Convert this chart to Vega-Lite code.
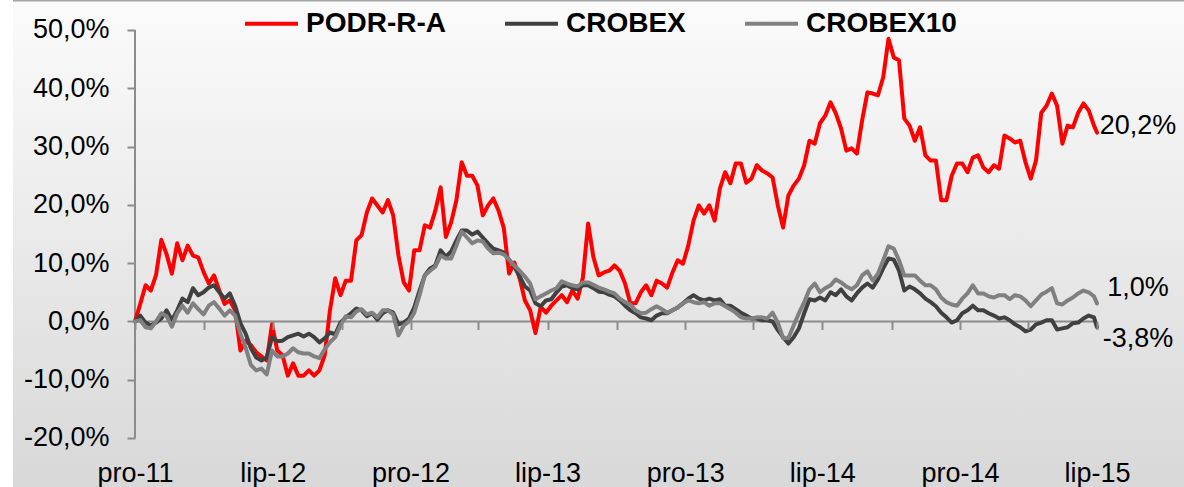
{
  "$schema": "https://vega.github.io/schema/vega-lite/v6.json",
  "width": 1171,
  "height": 487,
  "autosize": {"type": "none"},
  "padding": {"left": 13, "top": 0, "right": 0, "bottom": 0},
  "background": "#ffffff",
  "config": {
    "font": "Liberation Sans",
    "view": {"stroke": null}
  },
  "datasets": {
    "main": [
      {"d":"2011-12-01","r":0,"c":0,"g":0},
      {"d":"2011-12-08","r":3.0,"c":1.0,"g":0.2},
      {"d":"2011-12-15","r":6.2,"c":-0.2,"g":-1.0},
      {"d":"2011-12-22","r":5.3,"c":-0.7,"g":-1.2},
      {"d":"2011-12-29","r":8.0,"c":-0.2,"g":0},
      {"d":"2012-01-05","r":14.0,"c":0.5,"g":1.4},
      {"d":"2012-01-12","r":11.5,"c":1.9,"g":0.9},
      {"d":"2012-01-19","r":8.2,"c":0.2,"g":-0.9},
      {"d":"2012-01-26","r":13.4,"c":1.9,"g":1.4},
      {"d":"2012-02-02","r":10.5,"c":3.9,"g":2.7},
      {"d":"2012-02-09","r":13.0,"c":3.3,"g":1.5},
      {"d":"2012-02-16","r":11.3,"c":5.7,"g":3.1},
      {"d":"2012-02-23","r":11.0,"c":4.5,"g":2.1},
      {"d":"2012-03-01","r":8.5,"c":5.0,"g":1.2},
      {"d":"2012-03-08","r":6.5,"c":5.8,"g":2.7},
      {"d":"2012-03-15","r":7.9,"c":6.2,"g":3.3},
      {"d":"2012-03-22","r":5.3,"c":5.0,"g":2.2},
      {"d":"2012-03-29","r":3.0,"c":3.9,"g":1.0},
      {"d":"2012-04-05","r":3.6,"c":4.8,"g":1.9},
      {"d":"2012-04-12","r":1.9,"c":2.7,"g":1.0},
      {"d":"2012-04-19","r":-5.0,"c":-0.3,"g":-2.1},
      {"d":"2012-04-26","r":-3.3,"c":-2.1,"g":-4.5},
      {"d":"2012-05-03","r":-4.1,"c":-4.6,"g":-7.5},
      {"d":"2012-05-10","r":-5.3,"c":-6.2,"g":-8.4},
      {"d":"2012-05-17","r":-6.0,"c":-6.7,"g":-8.1},
      {"d":"2012-05-24","r":-6.7,"c":-6.2,"g":-9.1},
      {"d":"2012-05-31","r":-0.5,"c":-2.7,"g":-5.0},
      {"d":"2012-06-07","r":-5.0,"c":-3.4,"g":-6.0},
      {"d":"2012-06-14","r":-5.8,"c":-3.3,"g":-6.0},
      {"d":"2012-06-21","r":-9.3,"c":-2.7,"g":-5.5},
      {"d":"2012-06-28","r":-7.2,"c":-2.4,"g":-4.6},
      {"d":"2012-07-05","r":-9.3,"c":-2.1,"g":-5.3},
      {"d":"2012-07-12","r":-9.3,"c":-2.6,"g":-5.5},
      {"d":"2012-07-19","r":-8.4,"c":-2.1,"g":-5.5},
      {"d":"2012-07-26","r":-9.3,"c":-2.7,"g":-6.0},
      {"d":"2012-08-02","r":-8.4,"c":-3.6,"g":-6.3},
      {"d":"2012-08-09","r":-5.8,"c":-2.9,"g":-4.8},
      {"d":"2012-08-16","r":1.9,"c":-1.9,"g":-3.6},
      {"d":"2012-08-23","r":7.4,"c":-2.2,"g":-2.7},
      {"d":"2012-08-30","r":4.5,"c":-0.2,"g":-0.7},
      {"d":"2012-09-06","r":7.0,"c":0.7,"g":0.9},
      {"d":"2012-09-13","r":7.0,"c":1.4,"g":0.7},
      {"d":"2012-09-20","r":13.9,"c":2.2,"g":1.7},
      {"d":"2012-09-27","r":14.8,"c":1.9,"g":2.1},
      {"d":"2012-10-04","r":18.7,"c":0.9,"g":1.2},
      {"d":"2012-10-11","r":21.1,"c":1.4,"g":1.5},
      {"d":"2012-10-18","r":19.9,"c":0.3,"g":0.7},
      {"d":"2012-10-25","r":18.7,"c":1.4,"g":1.9},
      {"d":"2012-11-01","r":20.8,"c":1.9,"g":1.9},
      {"d":"2012-11-08","r":18.2,"c":1.5,"g":1.2},
      {"d":"2012-11-15","r":11.3,"c":-0.5,"g":-2.4},
      {"d":"2012-11-22","r":6.7,"c":-0.2,"g":-0.7},
      {"d":"2012-11-29","r":5.3,"c":0.5,"g":0},
      {"d":"2012-12-06","r":12.2,"c":2.4,"g":1.5},
      {"d":"2012-12-13","r":12.2,"c":5.3,"g":4.5},
      {"d":"2012-12-20","r":16.5,"c":7.9,"g":7.9},
      {"d":"2012-12-27","r":16.1,"c":9.1,"g":8.7},
      {"d":"2013-01-03","r":19.0,"c":9.6,"g":9.4},
      {"d":"2013-01-10","r":23.0,"c":12.2,"g":11.3},
      {"d":"2013-01-17","r":14.5,"c":11.1,"g":10.8},
      {"d":"2013-01-24","r":17.0,"c":12.0,"g":10.8},
      {"d":"2013-01-31","r":20.8,"c":13.9,"g":13.0},
      {"d":"2013-02-07","r":27.3,"c":15.6,"g":15.4},
      {"d":"2013-02-14","r":25.0,"c":15.6,"g":14.4},
      {"d":"2013-02-21","r":25.0,"c":14.9,"g":13.4},
      {"d":"2013-02-28","r":23.3,"c":15.4,"g":13.9},
      {"d":"2013-03-07","r":18.2,"c":14.4,"g":13.7},
      {"d":"2013-03-14","r":19.9,"c":13.4,"g":12.5},
      {"d":"2013-03-21","r":21.1,"c":12.5,"g":11.7},
      {"d":"2013-03-28","r":19.0,"c":12.2,"g":11.8},
      {"d":"2013-04-04","r":16.0,"c":11.8,"g":11.5},
      {"d":"2013-04-11","r":8.2,"c":10.6,"g":10.6},
      {"d":"2013-04-18","r":10.1,"c":9.4,"g":9.6},
      {"d":"2013-04-25","r":7.4,"c":7.7,"g":8.7},
      {"d":"2013-05-02","r":3.6,"c":6.0,"g":7.7},
      {"d":"2013-05-09","r":1.9,"c":5.3,"g":6.5},
      {"d":"2013-05-16","r":-2.0,"c":3.1,"g":3.8},
      {"d":"2013-05-23","r":2.5,"c":2.6,"g":4.3},
      {"d":"2013-05-30","r":1.5,"c":3.6,"g":4.8},
      {"d":"2013-06-06","r":2.7,"c":3.8,"g":5.3},
      {"d":"2013-06-13","r":3.6,"c":5.0,"g":5.7},
      {"d":"2013-06-20","r":4.5,"c":6.0,"g":6.9},
      {"d":"2013-06-27","r":3.3,"c":6.2,"g":6.5},
      {"d":"2013-07-04","r":5.3,"c":5.7,"g":6.2},
      {"d":"2013-07-11","r":3.9,"c":5.5,"g":6.0},
      {"d":"2013-07-18","r":7.5,"c":6.2,"g":6.7},
      {"d":"2013-07-25","r":16.8,"c":6.2,"g":6.7},
      {"d":"2013-08-01","r":11.0,"c":5.7,"g":6.3},
      {"d":"2013-08-08","r":7.9,"c":5.1,"g":5.8},
      {"d":"2013-08-15","r":8.4,"c":5.0,"g":5.5},
      {"d":"2013-08-22","r":8.7,"c":4.6,"g":5.1},
      {"d":"2013-08-29","r":9.6,"c":4.3,"g":4.8},
      {"d":"2013-09-05","r":8.7,"c":3.6,"g":3.9},
      {"d":"2013-09-12","r":6.5,"c":2.7,"g":3.3},
      {"d":"2013-09-19","r":3.1,"c":1.9,"g":2.9},
      {"d":"2013-09-26","r":3.1,"c":1.4,"g":1.9},
      {"d":"2013-10-03","r":5.0,"c":0.7,"g":1.4},
      {"d":"2013-10-10","r":6.2,"c":0.5,"g":1.5},
      {"d":"2013-10-17","r":4.5,"c":0.2,"g":2.1},
      {"d":"2013-10-24","r":7.0,"c":1.0,"g":2.6},
      {"d":"2013-10-31","r":6.5,"c":1.4,"g":2.1},
      {"d":"2013-11-07","r":5.8,"c":1.4,"g":1.5},
      {"d":"2013-11-14","r":8.4,"c":1.9,"g":1.9},
      {"d":"2013-11-21","r":10.5,"c":2.4,"g":2.4},
      {"d":"2013-11-28","r":9.9,"c":3.1,"g":3.1},
      {"d":"2013-12-05","r":13.0,"c":3.9,"g":3.6},
      {"d":"2013-12-12","r":17.3,"c":4.5,"g":3.3},
      {"d":"2013-12-19","r":19.9,"c":3.9,"g":3.1},
      {"d":"2013-12-26","r":18.5,"c":3.6,"g":3.3},
      {"d":"2014-01-02","r":19.9,"c":3.9,"g":2.7},
      {"d":"2014-01-09","r":17.3,"c":3.6,"g":3.1},
      {"d":"2014-01-16","r":22.8,"c":3.8,"g":3.1},
      {"d":"2014-01-23","r":25.6,"c":2.7,"g":2.6},
      {"d":"2014-01-30","r":23.7,"c":2.7,"g":2.1},
      {"d":"2014-02-06","r":27.1,"c":2.1,"g":1.5},
      {"d":"2014-02-13","r":27.1,"c":1.5,"g":0.7},
      {"d":"2014-02-20","r":23.8,"c":1.0,"g":0.5},
      {"d":"2014-02-27","r":24.5,"c":0.5,"g":0.5},
      {"d":"2014-03-06","r":26.8,"c":0.5,"g":0.7},
      {"d":"2014-03-13","r":25.9,"c":0.2,"g":0.7},
      {"d":"2014-03-20","r":25.4,"c":0.2,"g":0.5},
      {"d":"2014-03-27","r":24.7,"c":0,"g":1.5},
      {"d":"2014-04-03","r":19.9,"c":-1.5,"g":-0.2},
      {"d":"2014-04-10","r":16.1,"c":-2.7,"g":-2.9},
      {"d":"2014-04-17","r":21.6,"c":-3.8,"g":-2.9},
      {"d":"2014-04-24","r":23.3,"c":-2.7,"g":-0.7},
      {"d":"2014-05-01","r":24.5,"c":-1.2,"g":1.4},
      {"d":"2014-05-08","r":26.8,"c":1.4,"g":3.3},
      {"d":"2014-05-15","r":31.0,"c":3.8,"g":5.5},
      {"d":"2014-05-22","r":30.5,"c":3.6,"g":6.5},
      {"d":"2014-05-29","r":34.0,"c":4.1,"g":5.0},
      {"d":"2014-06-05","r":35.3,"c":3.6,"g":5.7},
      {"d":"2014-06-12","r":37.6,"c":5.0,"g":6.2},
      {"d":"2014-06-19","r":35.7,"c":4.5,"g":7.2},
      {"d":"2014-06-26","r":33.1,"c":5.5,"g":6.7},
      {"d":"2014-07-03","r":29.3,"c":4.3,"g":6.0},
      {"d":"2014-07-10","r":29.7,"c":3.6,"g":5.5},
      {"d":"2014-07-17","r":28.8,"c":4.8,"g":6.2},
      {"d":"2014-07-24","r":34.5,"c":5.8,"g":7.9},
      {"d":"2014-07-31","r":39.3,"c":6.5,"g":8.6},
      {"d":"2014-08-07","r":39.1,"c":5.8,"g":7.0},
      {"d":"2014-08-14","r":38.8,"c":7.2,"g":8.2},
      {"d":"2014-08-21","r":41.9,"c":9.1,"g":10.5},
      {"d":"2014-08-28","r":48.5,"c":10.8,"g":12.9},
      {"d":"2014-09-04","r":45.3,"c":10.6,"g":12.5},
      {"d":"2014-09-11","r":44.8,"c":8.7,"g":10.5},
      {"d":"2014-09-18","r":34.8,"c":5.3,"g":7.9},
      {"d":"2014-09-25","r":33.6,"c":6.0,"g":7.9},
      {"d":"2014-10-02","r":31.0,"c":5.5,"g":7.9},
      {"d":"2014-10-09","r":33.3,"c":4.8,"g":7.0},
      {"d":"2014-10-16","r":28.5,"c":3.9,"g":6.2},
      {"d":"2014-10-23","r":27.6,"c":3.3,"g":6.2},
      {"d":"2014-10-30","r":27.6,"c":2.6,"g":5.5},
      {"d":"2014-11-06","r":20.8,"c":1.5,"g":4.1},
      {"d":"2014-11-13","r":20.8,"c":0.7,"g":3.3},
      {"d":"2014-11-20","r":25.0,"c":-0.2,"g":2.9},
      {"d":"2014-11-27","r":27.1,"c":0.2,"g":2.7},
      {"d":"2014-12-04","r":27.1,"c":1.4,"g":3.9},
      {"d":"2014-12-11","r":25.6,"c":1.9,"g":4.8},
      {"d":"2014-12-18","r":28.1,"c":2.7,"g":6.2},
      {"d":"2014-12-25","r":28.5,"c":1.9,"g":4.8},
      {"d":"2015-01-01","r":26.4,"c":1.9,"g":4.8},
      {"d":"2015-01-08","r":25.6,"c":1.4,"g":4.3},
      {"d":"2015-01-15","r":26.8,"c":1.0,"g":4.1},
      {"d":"2015-01-22","r":26.2,"c":0.5,"g":4.5},
      {"d":"2015-01-29","r":31.9,"c":0.7,"g":4.5},
      {"d":"2015-02-05","r":31.4,"c":0.2,"g":3.8},
      {"d":"2015-02-12","r":30.7,"c":-0.5,"g":4.5},
      {"d":"2015-02-19","r":31.0,"c":-1.0,"g":4.3},
      {"d":"2015-02-26","r":27.3,"c":-1.7,"g":3.6},
      {"d":"2015-03-05","r":24.5,"c":-1.4,"g":2.6},
      {"d":"2015-03-12","r":27.6,"c":-0.5,"g":3.6},
      {"d":"2015-03-19","r":35.8,"c":-0.2,"g":4.6},
      {"d":"2015-03-26","r":37.0,"c":0.2,"g":5.1},
      {"d":"2015-04-02","r":39.1,"c":0.2,"g":5.7},
      {"d":"2015-04-09","r":37.0,"c":-1.4,"g":3.1},
      {"d":"2015-04-16","r":30.5,"c":-1.2,"g":2.9},
      {"d":"2015-04-23","r":33.6,"c":-1.0,"g":3.6},
      {"d":"2015-04-30","r":33.3,"c":-0.3,"g":4.1},
      {"d":"2015-05-07","r":35.8,"c":-0.2,"g":4.8},
      {"d":"2015-05-14","r":37.4,"c":0.5,"g":5.3},
      {"d":"2015-05-21","r":36.2,"c":1.0,"g":5.0},
      {"d":"2015-05-28","r":33.6,"c":0.7,"g":4.3},
      {"d":"2015-06-01","r":32.4,"c":-1.0,"g":3.1}
    ],
    "labels": [
      {"d":"2015-06-01","v":33.6,"t":"20,2%"},
      {"d":"2015-06-01","v":5.8,"t":"1,0%"},
      {"d":"2015-06-01","v":-3.0,"t":"-3,8%"}
    ]
  },
  "encoding": {
    "x": {
      "field": "d", "type": "temporal",
      "scale": {"type": "utc", "domain": [
        {"year": 2011, "month": 6, "date": 21, "hours": 22, "minutes": 5, "utc": true},
        {"year": 2015, "month": 9, "date": 24, "hours": 13, "minutes": 55, "utc": true}]},
      "axis": {
        "orient": "bottom", "offset": -165.6, "title": null, "grid": false, "domain": false, "zindex": 1,
        "values": [
          {"year": 2011, "month": 12, "date": 1, "utc": true},
          {"year": 2012, "month": 3, "date": 1, "utc": true},
          {"year": 2012, "month": 6, "date": 1, "utc": true},
          {"year": 2012, "month": 9, "date": 1, "utc": true},
          {"year": 2012, "month": 12, "date": 1, "utc": true},
          {"year": 2013, "month": 3, "date": 1, "utc": true},
          {"year": 2013, "month": 6, "date": 1, "utc": true},
          {"year": 2013, "month": 9, "date": 1, "utc": true},
          {"year": 2013, "month": 12, "date": 1, "utc": true},
          {"year": 2014, "month": 3, "date": 1, "utc": true},
          {"year": 2014, "month": 6, "date": 1, "utc": true},
          {"year": 2014, "month": 9, "date": 1, "utc": true},
          {"year": 2014, "month": 12, "date": 1, "utc": true},
          {"year": 2015, "month": 3, "date": 1, "utc": true},
          {"year": 2015, "month": 6, "date": 1, "utc": true}
        ],
        "labelExpr": "utcmonth(datum.value) == 11 ? 'pro-' + utcFormat(datum.value, '%y') : (utcmonth(datum.value) == 5 ? 'lip-' + utcFormat(datum.value, '%y') : '')",
        "ticks": true, "tickSize": 8, "tickWidth": 2, "tickColor": "#8c8c8c",
        "labelPadding": 131, "labelFontSize": 27, "labelColor": "#000000",
        "labelFont": "Liberation Sans", "labelFlush": false, "labelOverlap": false, "labelBound": false
      }
    },
    "y": {
      "field": "v", "type": "quantitative",
      "scale": {"domain": [-28.407, 55.147], "nice": false, "zero": false},
      "axis": {
        "orient": "left", "offset": -122, "title": null, "grid": false, "domain": false, "zindex": 1,
        "values": [-20, -10, 0, 10, 20, 30, 40, 50],
        "labelExpr": "(datum.value < 0 ? '-' : '') + replace(format(abs(datum.value), '.1f'), '.', ',') + '%'",
        "ticks": true, "tickSize": 8, "tickWidth": 2, "tickColor": "#8c8c8c",
        "labelPadding": 18, "labelFontSize": 27, "labelColor": "#000000",
        "labelFont": "Liberation Sans", "labelOverlap": false
      }
    }
  },
  "layer": [
    {
      "data": {"values": [{"d": "2011-06-21T22:05:00Z", "d2": "2015-09-24T13:55:00Z", "v": 55.147, "v2": -28.407}]},
      "mark": {"type": "rect", "color": {"gradient": "linear", "x1": 0, "y1": 0, "x2": 0, "y2": 1,
        "stops": [{"offset": 0, "color": "#fbfbfb"}, {"offset": 1, "color": "#d8d8d8"}]}},
      "encoding": {"x2": {"field": "d2"}, "y2": {"field": "v2"}}
    },
    {
      "data": {"values": [{"d": "2011-06-21T22:05:00Z", "d2": "2015-09-24T13:55:00Z", "v": 55.147}]},
      "mark": {"type": "rule", "color": "#a6a6a6", "strokeWidth": 3},
      "encoding": {"x2": {"field": "d2"}}
    },
    {
      "data": {"values": [{"d": "2011-12-01", "v": -20, "v2": 50}]},
      "mark": {"type": "rule", "color": "#8c8c8c", "strokeWidth": 2},
      "encoding": {"y2": {"field": "v2"}}
    },
    {
      "data": {"values": [{"d": "2011-12-01", "d2": "2015-06-01", "v": 0}]},
      "mark": {"type": "rule", "color": "#8c8c8c", "strokeWidth": 2},
      "encoding": {"x2": {"field": "d2"}}
    },
    {
      "data": {"name": "main"},
      "transform": [{"fold": ["r", "c", "g"], "as": ["s", "v"]}],
      "mark": {"type": "line", "strokeWidth": 4, "strokeJoin": "round", "strokeCap": "round"},
      "encoding": {
        "color": {
          "field": "s", "type": "nominal",
          "scale": {"domain": ["r", "c", "g"], "range": ["#ff0000", "#404040", "#808080"]},
          "legend": {
            "orient": "none", "legendX": 230, "legendY": -5, "direction": "horizontal",
            "title": null, "padding": 0,
            "symbolType": "stroke", "symbolSize": 2809, "symbolStrokeWidth": 4,
            "labelExpr": "datum.label == 'r' ? 'PODR-R-A' : (datum.label == 'c' ? 'CROBEX' : 'CROBEX10')",
            "labelFontSize": 28, "labelFontWeight": "bold", "labelFont": "Liberation Sans",
            "labelColor": "#000000", "labelOffset": 6, "columnPadding": 51, "labelLimit": 400
          }
        }
      }
    },
    {
      "data": {"name": "labels"},
      "mark": {"type": "text", "align": "center", "baseline": "middle", "dx": 41, "fontSize": 27, "color": "#000000", "font": "Liberation Sans"},
      "encoding": {"text": {"field": "t"}}
    }
  ]
}
